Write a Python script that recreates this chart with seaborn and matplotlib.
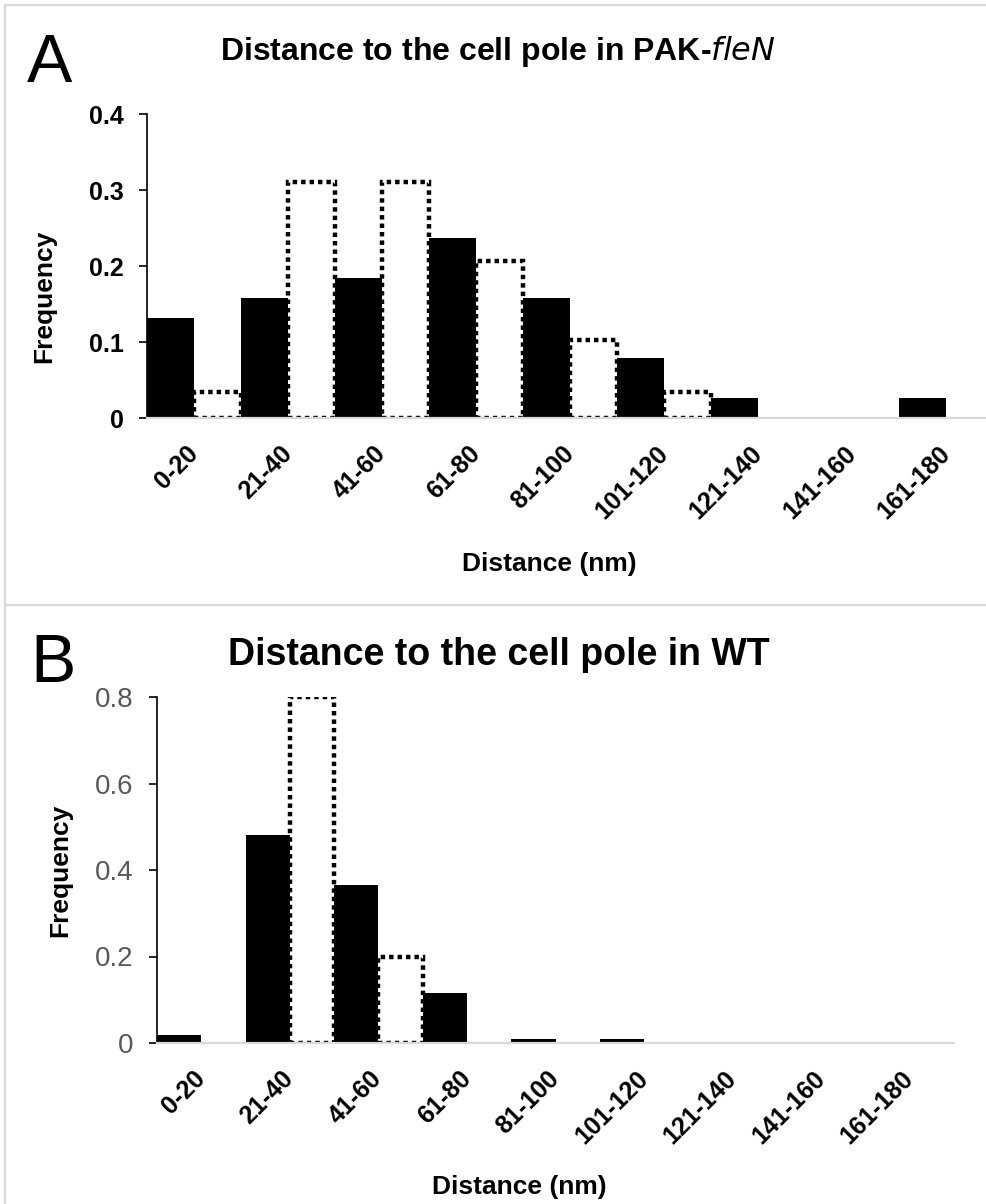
import matplotlib
matplotlib.use("Agg")
import matplotlib.pyplot as plt
import pandas as pd
import seaborn as sns
from matplotlib.patches import Rectangle

# distance bins (nm)
bins = ["0-20", "21-40", "41-60", "61-80", "81-100",
        "101-120", "121-140", "141-160", "161-180"]

# panel A: PAK-fleN
pak_solid = [0.132, 0.158, 0.184, 0.237, 0.158, 0.079, 0.026, 0.0, 0.026]
pak_dotted = [0.034, 0.310, 0.310, 0.207, 0.103, 0.034, 0.0, 0.0, 0.0]

# panel B: WT
wt_solid = [0.019, 0.481, 0.365, 0.115, 0.010, 0.010, 0.0, 0.0, 0.0]
wt_dotted = [0.0, 0.80, 0.20, 0.0, 0.0, 0.0, 0.0, 0.0, 0.0]

yticks_a = [0, 0.1, 0.2, 0.3, 0.4]
ylabels_a = ["0", "0.1", "0.2", "0.3", "0.4"]
yticks_b = [0, 0.2, 0.4, 0.6, 0.8]
ylabels_b = ["0", "0.2", "0.4", "0.6", "0.8"]

sns.set_theme(style="white")
plt.rcParams['font.family'] = ['Liberation Sans', 'DejaVu Sans']
plt.rcParams.update({"text.color": "black", "axes.labelcolor": "black",
                     "xtick.color": "black", "ytick.color": "black"})

W, H = 987, 1204
fig = plt.figure(figsize=(W / 100, H / 100), dpi=100)


def fx(px):
    return px / W


def fy(py):
    return 1 - py / H


def panel(ax, solid, dotted, ymax, yticks, ylabels, tick_kw):
    df = pd.DataFrame({
        "bin": bins * 2,
        "freq": solid + dotted,
        "series": ["solid"] * len(bins) + ["dotted"] * len(bins),
    })
    sns.barplot(data=df, x="bin", y="freq", hue="series",
                palette={"solid": "black", "dotted": "white"},
                width=1.0, saturation=1, legend=False, ax=ax)
    for bar in ax.containers[0]:
        bar.set_linewidth(0)
        if bar.get_height() == 0:
            bar.set_visible(False)
    for bar in ax.containers[1]:
        bar.set_edgecolor("black")
        bar.set_linewidth(3.2)
        bar.set_linestyle((0, (1, 0.9)))
        if bar.get_height() == 0:
            bar.set_visible(False)

    ax.set_xlim(-0.5, len(bins) - 0.5)
    ax.set_ylim(0, ymax)
    sns.despine(ax=ax)
    ax.spines["left"].set_color("black")
    ax.spines["left"].set_linewidth(1.2)
    ax.spines["bottom"].set_color("#d9d9d9")
    ax.spines["bottom"].set_linewidth(1.6)

    ax.set_yticks(yticks)
    ax.set_yticklabels(ylabels, **tick_kw)
    ax.tick_params(axis="y", left=True, direction="out", length=6,
                   width=1.2, color="black", pad=11)
    ax.tick_params(axis="x", bottom=False, length=0, pad=23)
    ax.set_xticks(range(len(bins)))
    ax.set_xticklabels(bins, rotation=45, ha="right", va="center",
                       rotation_mode="anchor", fontsize=18, fontweight="bold")
    ax.set_xlabel("Distance (nm)", fontsize=19, fontweight="bold")
    ax.set_ylabel("Frequency", fontsize=19, fontweight="bold")
    ax.xaxis.label.set_va("center")
    ax.yaxis.label.set_va("center")


# panel frames
for top, bottom in [(5, 605), (605, 1230)]:
    fig.add_artist(Rectangle((fx(5), fy(bottom)), 1.2, (bottom - top) / H,
                             transform=fig.transFigure, fill=False,
                             edgecolor="#d9d9d9", linewidth=1.6))

ax_a = fig.add_axes([fx(147), fy(418), 846 / W, 304 / H])
panel(ax_a, pak_solid, pak_dotted, 0.4, yticks_a, ylabels_a,
      dict(fontsize=18, fontweight="bold", color="black"))
ax_a.xaxis.set_label_coords(0.475, -0.48)
ax_a.yaxis.set_label_coords(-0.122, 0.40)

ax_b = fig.add_axes([fx(157), fy(1043), 797 / W, 346 / H])
panel(ax_b, wt_solid, wt_dotted, 0.8, yticks_b, ylabels_b,
      dict(fontsize=20, color="#595959"))
ax_b.xaxis.set_label_coords(0.455, -0.416)
ax_b.yaxis.set_label_coords(-0.122, 0.5)

fig.text(fx(27), fy(82), "A", fontsize=49, ha="left", va="baseline")
fig.text(fx(220), fy(60), "Distance to the cell pole in PAK-$\\bf{\\it{fleN}}$",
         fontsize=23, fontweight="bold", ha="left", va="baseline")
fig.text(fx(30), fy(682), "B", fontsize=49, ha="left", va="baseline")
fig.text(fx(228), fy(665), "Distance to the cell pole in WT",
         fontsize=27, fontweight="bold", ha="left", va="baseline")

fig.savefig("out.png", dpi=100)
